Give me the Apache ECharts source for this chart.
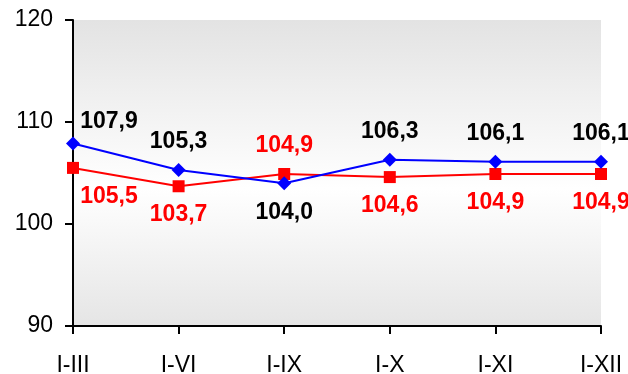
<!DOCTYPE html>
<html>
<head>
<meta charset="utf-8">
<script src="https://cdn.jsdelivr.net/npm/echarts@6/dist/echarts.min.js"></script>
<style>html,body{margin:0;padding:0;background:#fff}#c{width:628px;height:374px}</style>
</head>
<body>
<div id="c"></div>
<script>
const categories = ['I-III', 'I-VI', 'I-IX', 'I-X', 'I-XI', 'I-XII'];
const blueValues = [107.9, 105.3, 104.0, 106.3, 106.1, 106.1];
const redValues = [105.5, 103.7, 104.9, 104.6, 104.9, 104.9];
const yTicks = [90, 100, 110, 120];

// label offsets (layout only)
const blueOffsets = [[36, -22], [0, -28], [0, 29], [0, -28], [0, -28], [0, -28]];
const redOffsets = [[36, 29], [0, 28], [0, -28], [0, 29], [0, 29], [0, 29]];

const FONT = '"Liberation Sans", Arial, sans-serif';
const fmt = v => v.toFixed(1).replace('.', ',');

function build(values, offsets, labelColor) {
  return values.map((v, i) => ({
    value: v,
    label: {
      show: true,
      position: 'inside',
      offset: offsets[i],
      formatter: p => fmt(p.value),
      color: labelColor,
      fontFamily: FONT,
      fontWeight: 'bold',
      fontSize: 23
    }
  }));
}

const chart = echarts.init(document.getElementById('c'), null, {renderer: 'canvas'});
chart.setOption({
  animation: false,
  grid: {
    left: 73, right: 27, top: 20, bottom: 48,
    containLabel: false,
    outerBoundsMode: 'none',
    show: true,
    borderWidth: 0,
    backgroundColor: new echarts.graphic.LinearGradient(0, 0, 0, 1, [
      {offset: 0, color: '#e3e3e3'},
      {offset: 0.55, color: '#ffffff'},
      {offset: 1, color: '#e5e5e5'}
    ])
  },
  xAxis: {
    type: 'category',
    data: categories,
    boundaryGap: false,
    axisLine: {lineStyle: {color: '#000', width: 2}},
    axisTick: {show: true, length: 8, lineStyle: {color: '#000', width: 2}},
    axisLabel: {color: '#000', fontFamily: FONT, fontSize: 23, margin: 28, interval: 0},
    splitLine: {show: false}
  },
  yAxis: {
    type: 'value',
    min: yTicks[0],
    max: yTicks[yTicks.length - 1],
    interval: 10,
    axisLine: {show: true, lineStyle: {color: '#000', width: 2}},
    axisTick: {show: true, length: 8, lineStyle: {color: '#000', width: 2}},
    axisLabel: {color: '#000', fontFamily: FONT, fontSize: 23, margin: 20},
    splitLine: {show: false}
  },
  series: [
    {
      type: 'line',
      data: build(redValues, redOffsets, '#ff0000'),
      symbol: 'rect',
      symbolSize: 12,
      lineStyle: {color: '#ff0000', width: 2},
      itemStyle: {color: '#ff0000'},
      z: 2
    },
    {
      type: 'line',
      data: build(blueValues, blueOffsets, '#000000'),
      symbol: 'diamond',
      symbolSize: 14,
      lineStyle: {color: '#0000ff', width: 2},
      itemStyle: {color: '#0000ff'},
      z: 3
    }
  ]
});
</script>
</body>
</html>
